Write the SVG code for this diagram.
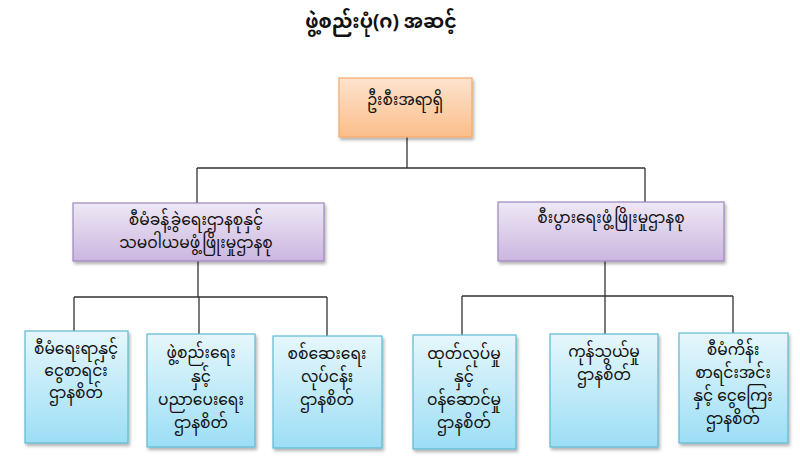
<svg xmlns="http://www.w3.org/2000/svg" width="800" height="475" viewBox="0 0 800 475">
<defs>
<linearGradient id="gOrange" x1="0" y1="0" x2="0" y2="1"><stop offset="0" stop-color="#FDE3CF"/><stop offset="1" stop-color="#FBBE8A"/></linearGradient>
<linearGradient id="gPurple" x1="0" y1="0" x2="0" y2="1"><stop offset="0" stop-color="#EEE8F5"/><stop offset="1" stop-color="#CBB6E0"/></linearGradient>
<linearGradient id="gBlue" x1="0" y1="0" x2="0" y2="1"><stop offset="0" stop-color="#E6F7FC"/><stop offset="1" stop-color="#9CDEF5"/></linearGradient>
<filter id="sh" x="-10%" y="-10%" width="130%" height="130%"><feDropShadow dx="1.5" dy="2.5" stdDeviation="1.5" flood-color="#000" flood-opacity="0.3"/></filter>
</defs>
<style>
text{font-family:"Noto Sans Myanmar","Myanmar Text","Padauk","Noto Sans","DejaVu Sans",sans-serif;fill:#111;text-anchor:middle}
.t{font-size:19px;font-weight:bold}
.n{font-size:15.5px}
.orange{fill:url(#gOrange);stroke:#F5A868;stroke-width:1.2}
.purple{fill:url(#gPurple);stroke:#9C86BC;stroke-width:1.2}
.blue{fill:url(#gBlue);stroke:#5DB9D3;stroke-width:1.2}
.c{fill:none;stroke:#333;stroke-width:1.3}
</style>
<rect width="800" height="475" fill="#fff"/>
<text class="t" x="381" y="28">ဖွဲ့စည်းပုံ(ဂ) အဆင့်</text>
<g id="connectors">
<path class="c" d="M407 137V168M197 168H645M197 168V203M645 168V202"/>
<path class="c" d="M198 261V297M74 297H327M74 297V331M199 297V334M327 297V336"/>
<path class="c" d="M605 261V296M462 296H733M462 296V335M605 296V334M733 296V333"/>
</g>
<g id="n0"><rect class="orange" filter="url(#sh)" x="339" y="78" width="133" height="59"/><text class="n" x="405" y="105">ဦးစီးအရာရှိ</text></g>
<g id="n1"><rect class="purple" filter="url(#sh)" x="73" y="203" width="251" height="58"/><text class="n" x="196" y="225">စီမံခန့်ခွဲရေးဌာနစုနှင့်</text><text class="n" x="196" y="248">သမဝါယမဖွံ့ဖြိုးမှုဌာနစု</text></g>
<g id="n2"><rect class="purple" filter="url(#sh)" x="498" y="202" width="226" height="59"/><text class="n" x="611" y="223">စီးပွားရေးဖွံ့ဖြိုးမှုဌာနစု</text></g>
<g id="n3"><rect class="blue" filter="url(#sh)" x="25" y="331" width="103" height="112"/><text class="n" x="76" y="354">စီမံရေးရာနှင့်</text><text class="n" x="76" y="376">ငွေစာရင်း</text><text class="n" x="76" y="398">ဌာနစိတ်</text></g>
<g id="n4"><rect class="blue" filter="url(#sh)" x="147" y="334" width="108" height="113"/><text class="n" x="201" y="358">ဖွဲ့စည်းရေး</text><text class="n" x="201" y="382">နှင့်</text><text class="n" x="201" y="405">ပညာပေးရေး</text><text class="n" x="201" y="428">ဌာနစိတ်</text></g>
<g id="n5"><rect class="blue" filter="url(#sh)" x="273" y="336" width="109" height="112"/><text class="n" x="327" y="359">စစ်ဆေးရေး</text><text class="n" x="327" y="382">လုပ်ငန်း</text><text class="n" x="327" y="405">ဌာနစိတ်</text></g>
<g id="n6"><rect class="blue" filter="url(#sh)" x="413" y="335" width="103" height="114"/><text class="n" x="464" y="359">ထုတ်လုပ်မှု</text><text class="n" x="464" y="382">နှင့်</text><text class="n" x="464" y="405">ဝန်ဆောင်မှု</text><text class="n" x="464" y="428">ဌာနစိတ်</text></g>
<g id="n7"><rect class="blue" filter="url(#sh)" x="550" y="334" width="108" height="113"/><text class="n" x="604" y="357">ကုန်သွယ်မှု</text><text class="n" x="604" y="380">ဌာနစိတ်</text></g>
<g id="n8"><rect class="blue" filter="url(#sh)" x="679" y="333" width="109" height="110"/><text class="n" x="733" y="355">စီမံကိန်း</text><text class="n" x="733" y="378">စာရင်းအင်း</text><text class="n" x="733" y="401">နှင့် ငွေကြေး</text><text class="n" x="733" y="424">ဌာနစိတ်</text></g>
</svg>
